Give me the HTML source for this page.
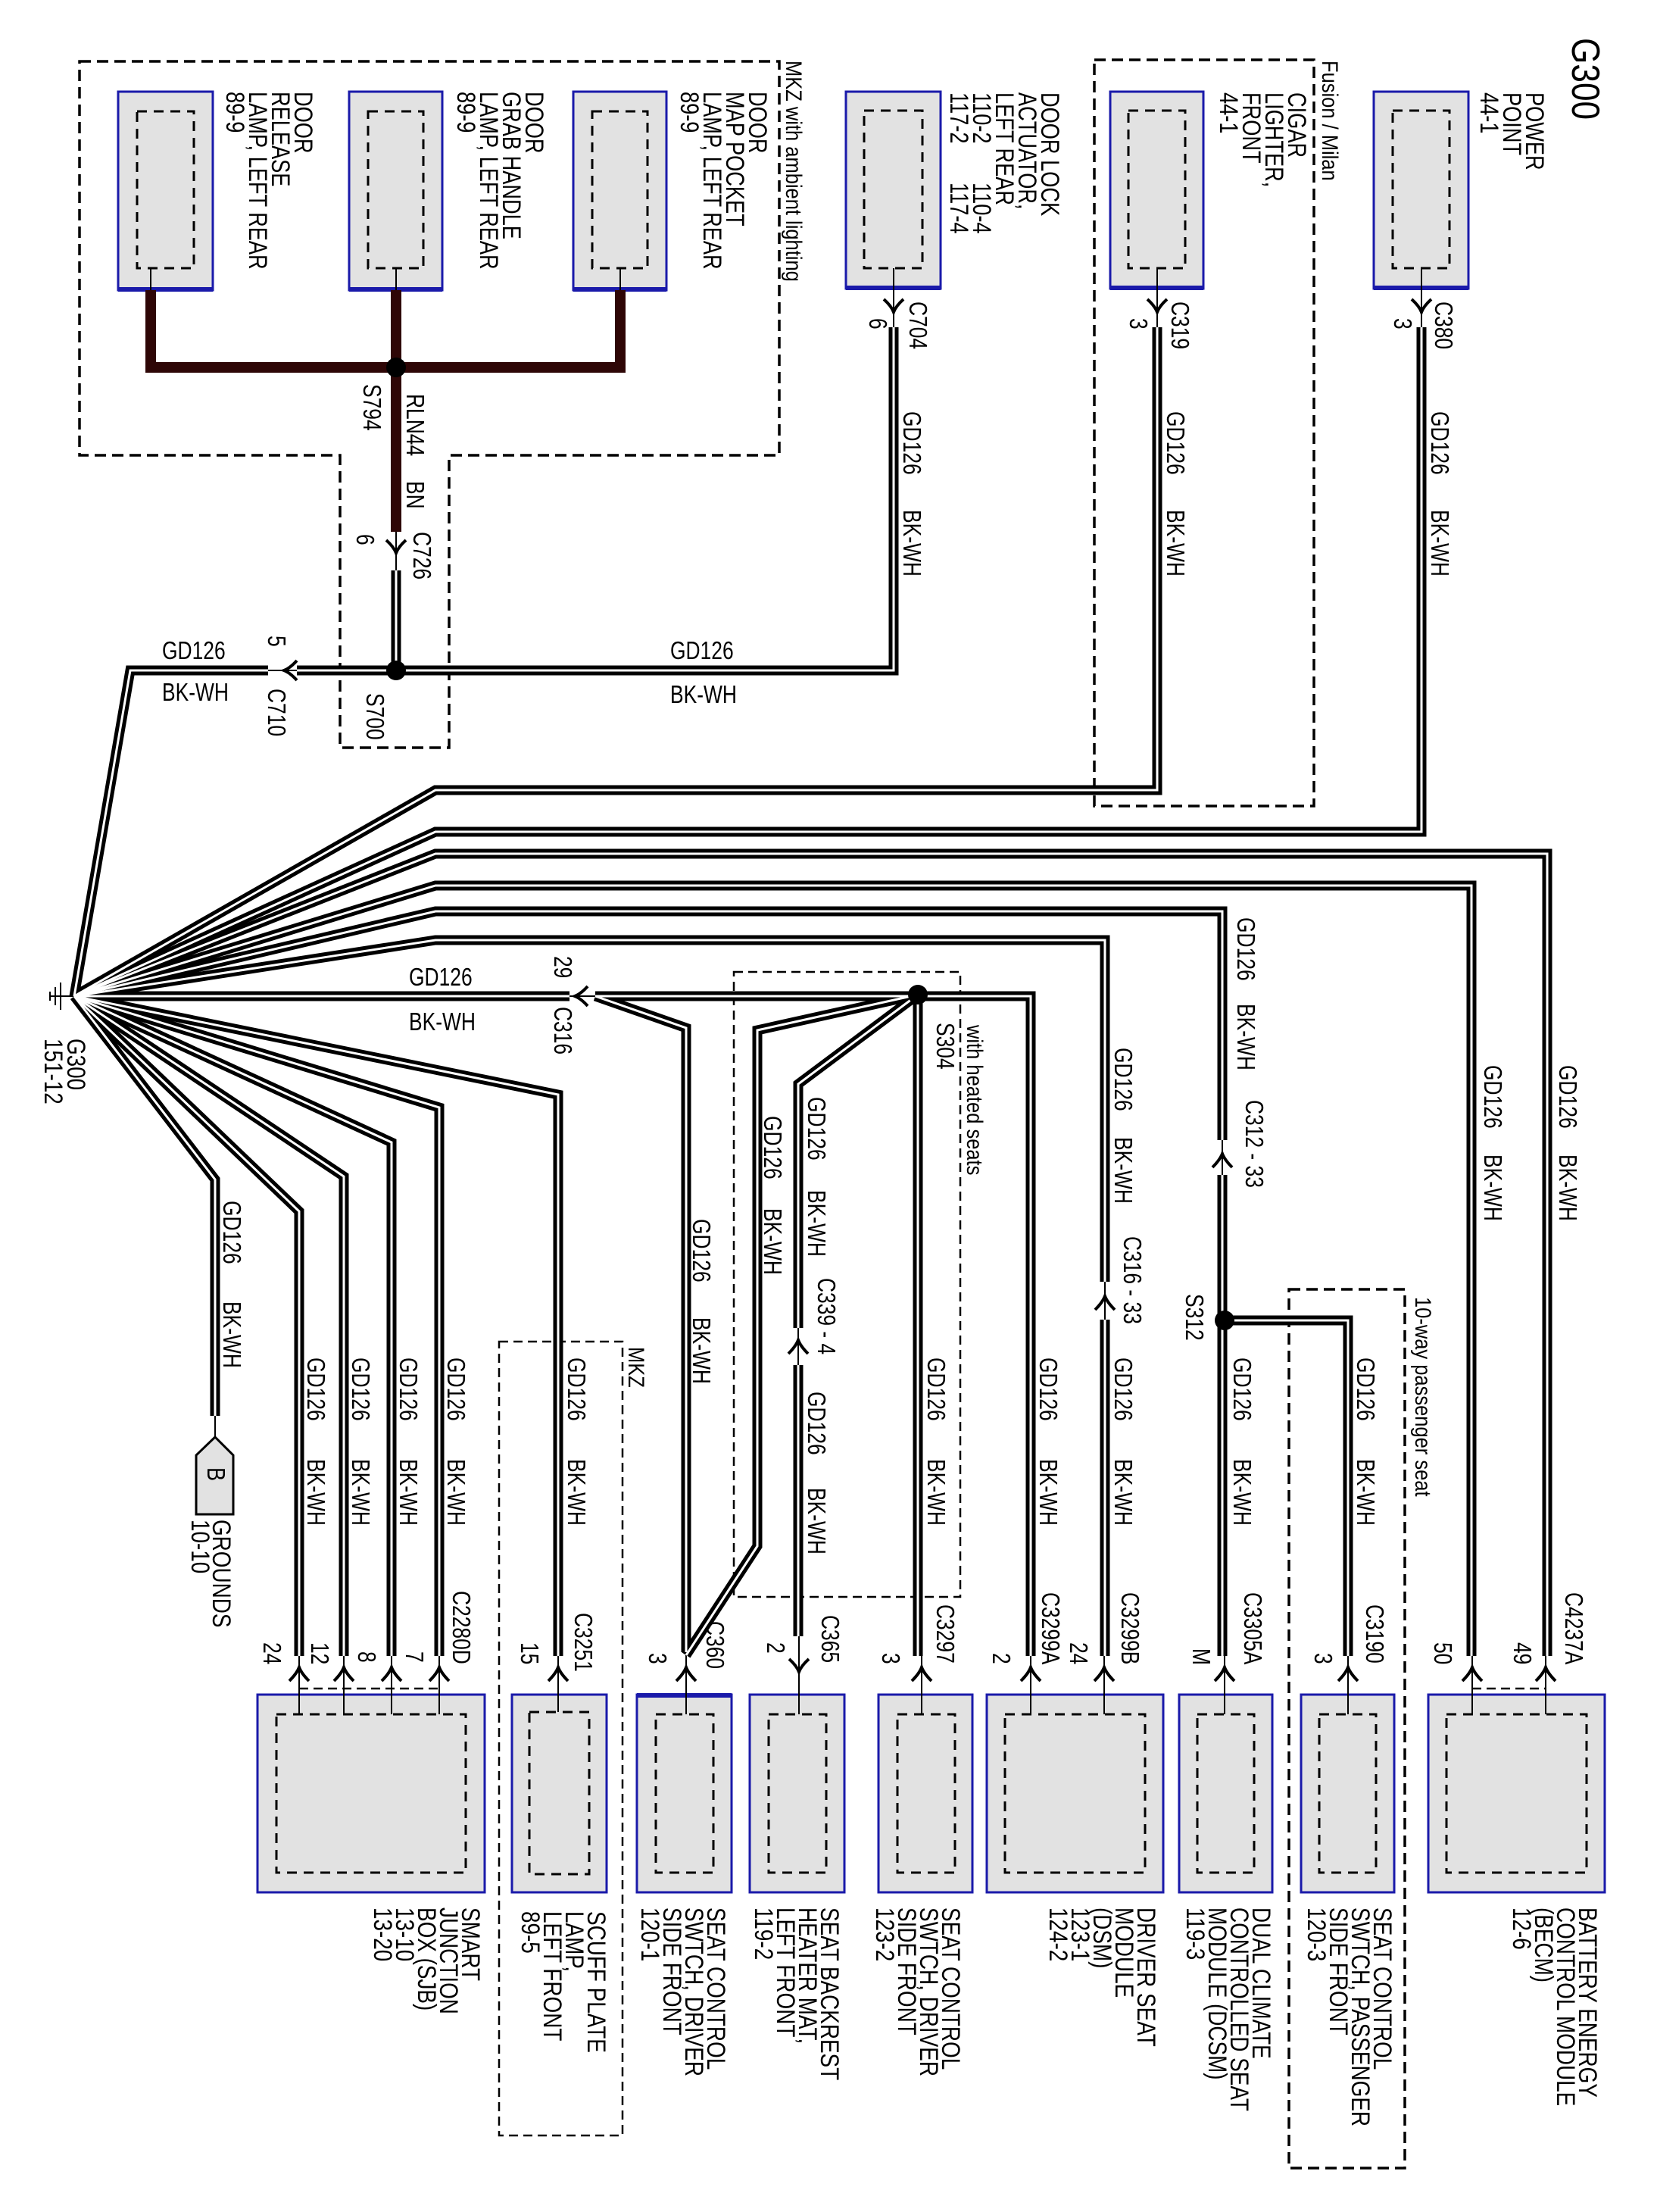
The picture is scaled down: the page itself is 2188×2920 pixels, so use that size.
<!DOCTYPE html>
<html><head><meta charset="utf-8"><style>
html,body{margin:0;padding:0;background:#fff}
svg{display:block}
text{font-family:"Liberation Sans",Arial,sans-serif;fill:#000}
.lb{font-size:34px}
.wl{font-size:33px}
.sm{font-size:30px}
</style></head><body>
<svg width="2188" height="2920" viewBox="0 0 2188 2920" xmlns="http://www.w3.org/2000/svg">
<rect width="2188" height="2920" fill="#fff"/>

<g fill="none" stroke="#000" stroke-width="3.5" stroke-dasharray="15 8">
<path d="M105,81 H1029 V601 H593 V987 H449 V601 H105 Z"/>
<rect x="1445" y="79" width="290" height="985"/>
<rect x="1702" y="1702" width="153" height="1160"/>
</g>
<g fill="none" stroke="#000" stroke-width="2.5" stroke-dasharray="12 7">
<rect x="969" y="1283" width="299" height="825"/>
<rect x="659" y="1771" width="163" height="1048"/>
<path d="M395,2229 H580 M1944,2229 H2041"/>
</g>

<g fill="#e2e2e2" stroke="#1a1aaa" stroke-width="3">
<rect x="156" y="121" width="125" height="262"/>
<rect x="461" y="121" width="123" height="262"/>
<rect x="757" y="121" width="123" height="262"/>
<rect x="1117" y="121" width="125" height="260"/>
<rect x="1466" y="121" width="123" height="260"/>
<rect x="1814" y="121" width="125" height="260"/>
<rect x="340" y="2237" width="300" height="261"/>
<rect x="676" y="2237" width="125" height="261"/>
<rect x="841" y="2237" width="125" height="261"/>
<rect x="990" y="2237" width="125" height="261"/>
<rect x="1160" y="2237" width="124" height="261"/>
<rect x="1303" y="2237" width="233" height="261"/>
<rect x="1557" y="2237" width="123" height="261"/>
<rect x="1718" y="2237" width="123" height="261"/>
<rect x="1886" y="2237" width="233" height="261"/>
</g>
<g stroke="#1a1aaa" stroke-width="6">
<path d="M156,382 H281 M461,382 H584 M757,382 H880 M1117,380 H1242 M1466,380 H1589 M1814,380 H1939 M841,2238 H966"/>
</g>
<g fill="none" stroke="#000" stroke-width="3" stroke-dasharray="13 9">
<rect x="181" y="147" width="75" height="207"/>
<rect x="486" y="147" width="73" height="207"/>
<rect x="782" y="147" width="73" height="207"/>
<rect x="1141" y="146" width="77" height="208"/>
<rect x="1490" y="146" width="75" height="208"/>
<rect x="1839" y="146" width="75" height="208"/>
<rect x="365" y="2263" width="250" height="209"/>
<rect x="699" y="2260" width="79" height="214"/>
<rect x="866" y="2263" width="76" height="209"/>
<rect x="1015" y="2263" width="76" height="209"/>
<rect x="1185" y="2263" width="76" height="209"/>
<rect x="1327" y="2263" width="185" height="209"/>
<rect x="1581" y="2263" width="75" height="209"/>
<rect x="1742" y="2263" width="75" height="209"/>
<rect x="1910" y="2263" width="185" height="209"/>
</g>

<g stroke="#000" stroke-width="2" fill="none">
<path d="M199,354 V383 M523,354 V383 M819,354 V383"/>
<path d="M1180,354 V432 M1528,354 V432 M1877,354 V432"/>
<path d="M523,702 V753 M354,885 H392 M752,1315 H786 M1054,1753 V1802 M1614,1505 V1551 M1459,1692 V1742"/>
<path d="M395,2186 V2263 M454,2186 V2263 M517,2186 V2263 M580,2186 V2263 M737,2186 V2260 M906,2181 V2263 M1055,2160 V2263 M1217,2186 V2263 M1361,2186 V2263 M1458,2186 V2263 M1617,2186 V2263 M1780,2186 V2263 M1944,2186 V2263 M2041,2186 V2263"/>
<path d="M284,1869 V1897"/>
<path d="M98,1315 H66 M80,1297 V1333 M73,1303 V1327 M66,1309 V1321"/>
</g>

<g fill="none" stroke="#2e0606" stroke-width="14">
<path d="M199,383 V485 H819 V383"/>
<path d="M523,383 V485 M523,485 V702"/>
</g>

<g fill="none" stroke="#000" stroke-width="13" stroke-linejoin="miter">
<path d="M1180,432 V885 H392"/>
<path d="M354,885 H172 L98,1315"/>
<path d="M523,753 V885"/>
<path d="M1528,432 V1043 H575 L98,1315"/>
<path d="M1877,432 V1098 H575 L98,1315"/>
<path d="M2043,2186 V1127 H575 L98,1315"/>
<path d="M1943,2186 V1169 H575 L98,1315"/>
<path d="M1614,1505 V1203 H575 L98,1315"/>
<path d="M1614,1551 V2186 M1614,1743 H1780 V2186"/>
<path d="M1459,1692 V1241 H575 L98,1315"/>
<path d="M1459,1742 V2186"/>
<path d="M98,1315 H752"/>
<path d="M786,1315 H1361 V2186 M1212,1313 V2186"/>
<path d="M786,1315 L906,1357 V2181"/>
<path d="M1212,1313 L1000,1360 V2041 L906,2185"/>
<path d="M1212,1313 L1054,1431 V1753"/>
<path d="M1054,1802 V2160"/>
<path d="M98,1315 L284,1557 V1869"/>
<path d="M98,1315 L395,1599 V2186"/>
<path d="M98,1315 L454,1553 V2186"/>
<path d="M98,1315 L517,1508 V2186"/>
<path d="M98,1315 L580,1462 V2186"/>
<path d="M98,1315 L737,1445 V2186"/>
</g>
<g fill="none" stroke="#fff" stroke-width="3" stroke-linejoin="miter">
<path d="M1180,432 V885 H392"/>
<path d="M354,885 H172 L98,1315"/>
<path d="M523,753 V885"/>
<path d="M1528,432 V1043 H575 L98,1315"/>
<path d="M1877,432 V1098 H575 L98,1315"/>
<path d="M2043,2186 V1127 H575 L98,1315"/>
<path d="M1943,2186 V1169 H575 L98,1315"/>
<path d="M1614,1505 V1203 H575 L98,1315"/>
<path d="M1614,1551 V2186 M1614,1743 H1780 V2186"/>
<path d="M1459,1692 V1241 H575 L98,1315"/>
<path d="M1459,1742 V2186"/>
<path d="M98,1315 H752"/>
<path d="M786,1315 H1361 V2186 M1212,1313 V2186"/>
<path d="M786,1315 L906,1357 V2181"/>
<path d="M1212,1313 L1000,1360 V2041 L906,2185"/>
<path d="M1212,1313 L1054,1431 V1753"/>
<path d="M1054,1802 V2160"/>
<path d="M98,1315 L284,1557 V1869"/>
<path d="M98,1315 L395,1599 V2186"/>
<path d="M98,1315 L454,1553 V2186"/>
<path d="M98,1315 L517,1508 V2186"/>
<path d="M98,1315 L580,1462 V2186"/>
<path d="M98,1315 L737,1445 V2186"/>
</g>

<g fill="#000">
<circle cx="523" cy="485" r="13"/>
<circle cx="523" cy="885" r="13"/>
<circle cx="1212" cy="1313" r="13"/>
<circle cx="1617" cy="1743" r="13"/>
</g>

<g fill="none" stroke="#000" stroke-width="4">
<path d="M1167,395 Q1177,404 1180,412 Q1183,404 1193,395"/>
<path d="M1515,395 Q1525,404 1528,412 Q1531,404 1541,395"/>
<path d="M1864,395 Q1874,404 1877,412 Q1880,404 1890,395"/>
<path d="M510,713 Q520,722 523,730 Q526,722 536,713"/>
<path d="M1042,2190 Q1052,2199 1055,2207 Q1058,2199 1068,2190"/>
<path d="M392,872 Q383,882 375,885 Q383,888 392,898"/>
<path d="M776,1302 Q767,1312 759,1315 Q767,1318 776,1328"/>
<path d="M1041,1787 Q1051,1777 1054,1769 Q1057,1777 1067,1787"/>
<path d="M1601,1541 Q1611,1531 1614,1523 Q1617,1531 1627,1541"/>
<path d="M1446,1729 Q1456,1719 1459,1711 Q1462,1719 1472,1729"/>
<path d="M382,2219 Q392,2209 395,2201 Q398,2209 408,2219"/>
<path d="M441,2219 Q451,2209 454,2201 Q457,2209 467,2219"/>
<path d="M504,2219 Q514,2209 517,2201 Q520,2209 530,2219"/>
<path d="M567,2219 Q577,2209 580,2201 Q583,2209 593,2219"/>
<path d="M724,2219 Q734,2209 737,2201 Q740,2209 750,2219"/>
<path d="M893,2219 Q903,2209 906,2201 Q909,2209 919,2219"/>
<path d="M1204,2219 Q1214,2209 1217,2201 Q1220,2209 1230,2219"/>
<path d="M1348,2219 Q1358,2209 1361,2201 Q1364,2209 1374,2219"/>
<path d="M1445,2219 Q1455,2209 1458,2201 Q1461,2209 1471,2219"/>
<path d="M1604,2219 Q1614,2209 1617,2201 Q1620,2209 1630,2219"/>
<path d="M1767,2219 Q1777,2209 1780,2201 Q1783,2209 1793,2219"/>
<path d="M1931,2219 Q1941,2209 1944,2201 Q1947,2209 1957,2219"/>
<path d="M2028,2219 Q2038,2209 2041,2201 Q2044,2209 2054,2219"/>
</g>

<path d="M284,1897 L308,1921 V1999 H259 V1921 Z" fill="#e2e2e2" stroke="#000" stroke-width="3"/>
<text class="wl" transform="translate(274,1937) rotate(90) scale(0.82,1)">B</text>

<text transform="translate(2076,50) rotate(90) scale(0.85,1)" style="font-size:52px">G300</text>

<text class="lb" transform="translate(389,121) rotate(90) scale(0.8,1)"><tspan x="0" y="0">DOOR</tspan><tspan x="0" dy="30">RELEASE</tspan><tspan x="0" dy="30">LAMP, LEFT REAR</tspan><tspan x="0" dy="30">89-9</tspan></text>
<text class="lb" transform="translate(694,121) rotate(90) scale(0.8,1)"><tspan x="0" y="0">DOOR</tspan><tspan x="0" dy="30">GRAB HANDLE</tspan><tspan x="0" dy="30">LAMP, LEFT REAR</tspan><tspan x="0" dy="30">89-9</tspan></text>
<text class="lb" transform="translate(989,121) rotate(90) scale(0.8,1)"><tspan x="0" y="0">DOOR</tspan><tspan x="0" dy="30">MAP POCKET</tspan><tspan x="0" dy="30">LAMP, LEFT REAR</tspan><tspan x="0" dy="30">89-9</tspan></text>
<text class="sm" transform="translate(1038,80) rotate(90) scale(0.85,1)">MKZ with ambient lighting</text>
<text class="lb" transform="translate(1375,122) rotate(90) scale(0.8,1)"><tspan x="0" y="0">DOOR LOCK</tspan><tspan x="0" dy="30">ACTUATOR,</tspan><tspan x="0" dy="30">LEFT REAR</tspan><tspan x="0" dy="30">110-2</tspan><tspan x="0" dy="30">117-2</tspan></text>
<text class="lb" transform="translate(1285,241) rotate(90) scale(0.8,1)"><tspan x="0" y="0">110-4</tspan><tspan x="0" dy="30">117-4</tspan></text>
<text class="sm" transform="translate(1746,80) rotate(90) scale(0.85,1)">Fusion / Milan</text>
<text class="lb" transform="translate(1701,122) rotate(90) scale(0.8,1)"><tspan x="0" y="0">CIGAR</tspan><tspan x="0" dy="30">LIGHTER,</tspan><tspan x="0" dy="30">FRONT</tspan><tspan x="0" dy="30">44-1</tspan></text>
<text class="lb" transform="translate(2015,122) rotate(90) scale(0.8,1)"><tspan x="0" y="0">POWER</tspan><tspan x="0" dy="30">POINT</tspan><tspan x="0" dy="30">44-1</tspan></text>

<text class="lb" transform="translate(610,2518) rotate(90) scale(0.82,1)"><tspan x="0" y="0">SMART</tspan><tspan x="0" dy="29">JUNCTION</tspan><tspan x="0" dy="29">BOX (SJB)</tspan><tspan x="0" dy="29">13-10</tspan><tspan x="0" dy="29">13-20</tspan></text>
<text class="lb" transform="translate(776,2523) rotate(90) scale(0.82,1)"><tspan x="0" y="0">SCUFF PLATE</tspan><tspan x="0" dy="29">LAMP,</tspan><tspan x="0" dy="29">LEFT FRONT</tspan><tspan x="0" dy="29">89-5</tspan></text>
<text class="lb" transform="translate(934,2518) rotate(90) scale(0.82,1)"><tspan x="0" y="0">SEAT CONTROL</tspan><tspan x="0" dy="29">SWTCH, DRIVER</tspan><tspan x="0" dy="29">SIDE FRONT</tspan><tspan x="0" dy="29">120-1</tspan></text>
<text class="lb" transform="translate(1084,2518) rotate(90) scale(0.82,1)"><tspan x="0" y="0">SEAT BACKREST</tspan><tspan x="0" dy="29">HEATER MAT,</tspan><tspan x="0" dy="29">LEFT FRONT</tspan><tspan x="0" dy="29">119-2</tspan></text>
<text class="lb" transform="translate(1244,2518) rotate(90) scale(0.82,1)"><tspan x="0" y="0">SEAT CONTROL</tspan><tspan x="0" dy="29">SWTCH, DRIVER</tspan><tspan x="0" dy="29">SIDE FRONT</tspan><tspan x="0" dy="29">123-2</tspan></text>
<text class="lb" transform="translate(1502,2518) rotate(90) scale(0.82,1)"><tspan x="0" y="0">DRIVER SEAT</tspan><tspan x="0" dy="29">MODULE</tspan><tspan x="0" dy="29">(DSM)</tspan><tspan x="0" dy="29">123-1</tspan><tspan x="0" dy="29">124-2</tspan></text>
<text class="lb" transform="translate(1654,2518) rotate(90) scale(0.82,1)"><tspan x="0" y="0">DUAL CLIMATE</tspan><tspan x="0" dy="29">CONTROLLED SEAT</tspan><tspan x="0" dy="29">MODULE (DCSM)</tspan><tspan x="0" dy="29">119-3</tspan></text>
<text class="lb" transform="translate(1814,2518) rotate(90) scale(0.82,1)"><tspan x="0" y="0">SEAT CONTROL</tspan><tspan x="0" dy="29">SWTCH, PASSENGER</tspan><tspan x="0" dy="29">SIDE FRONT</tspan><tspan x="0" dy="29">120-3</tspan></text>
<text class="lb" transform="translate(2085,2518) rotate(90) scale(0.82,1)"><tspan x="0" y="0">BATTERY ENERGY</tspan><tspan x="0" dy="29">CONTROL MODULE</tspan><tspan x="0" dy="29">(BECM)</tspan><tspan x="0" dy="29">12-6</tspan></text>
<text class="lb" transform="translate(281,2006) rotate(90) scale(0.82,1)"><tspan x="0" y="0">GROUNDS</tspan><tspan x="0" dy="28">10-10</tspan></text>
<text class="lb" transform="translate(89,1371) rotate(90) scale(0.82,1)"><tspan x="0" y="0">G300</tspan><tspan x="0" dy="30">151-12</tspan></text>

<text class="sm" transform="translate(830,1778) rotate(90) scale(0.85,1)">MKZ</text>
<text class="sm" transform="translate(1277,1353) rotate(90) scale(0.85,1)">with heated seats</text>
<text class="sm" transform="translate(1869,1712) rotate(90) scale(0.85,1)">10-way passenger seat</text>

<g class="wl">
<text transform="translate(1201,398) rotate(90) scale(0.8,1)">C704</text>
<text transform="translate(1148,420) rotate(90) scale(0.8,1)">6</text>
<text transform="translate(1547,398) rotate(90) scale(0.8,1)">C319</text>
<text transform="translate(1492,420) rotate(90) scale(0.8,1)">3</text>
<text transform="translate(1895,398) rotate(90) scale(0.8,1)">C380</text>
<text transform="translate(1841,420) rotate(90) scale(0.8,1)">3</text>
<text transform="translate(1193,543) rotate(90) scale(0.8,1)">GD126</text>
<text transform="translate(1193,673) rotate(90) scale(0.8,1)">BK-WH</text>
<text transform="translate(1541,543) rotate(90) scale(0.8,1)">GD126</text>
<text transform="translate(1541,673) rotate(90) scale(0.8,1)">BK-WH</text>
<text transform="translate(1890,543) rotate(90) scale(0.8,1)">GD126</text>
<text transform="translate(1890,673) rotate(90) scale(0.8,1)">BK-WH</text>

<text transform="translate(480,507) rotate(90) scale(0.8,1)">S794</text>
<text transform="translate(537,520) rotate(90) scale(0.8,1)">RLN44</text>
<text transform="translate(537,635) rotate(90) scale(0.8,1)">BN</text>
<text transform="translate(546,702) rotate(90) scale(0.8,1)">C726</text>
<text transform="translate(471,705) rotate(90) scale(0.8,1)">6</text>
<text transform="translate(354,909) rotate(90) scale(0.8,1)">C710</text>
<text transform="translate(354,839) rotate(90) scale(0.8,1)">5</text>
<text transform="translate(484,915) rotate(90) scale(0.8,1)">S700</text>
<text transform="translate(214,870) scale(0.8,1)">GD126</text>
<text transform="translate(214,925) scale(0.8,1)">BK-WH</text>
<text transform="translate(885,870) scale(0.8,1)">GD126</text>
<text transform="translate(885,928) scale(0.8,1)">BK-WH</text>
<text transform="translate(540,1301) scale(0.8,1)">GD126</text>
<text transform="translate(540,1360) scale(0.8,1)">BK-WH</text>
<text transform="translate(732,1262) rotate(90) scale(0.8,1)">29</text>
<text transform="translate(732,1329) rotate(90) scale(0.8,1)">C316</text>
<text transform="translate(1237,1350) rotate(90) scale(0.8,1)">S304</text>
<text transform="translate(1566,1708) rotate(90) scale(0.8,1)">S312</text>

<text transform="translate(1634,1211) rotate(90) scale(0.8,1)">GD126</text>
<text transform="translate(1634,1325) rotate(90) scale(0.8,1)">BK-WH</text>
<text transform="translate(1645,1452) rotate(90) scale(0.8,1)">C312 - 33</text>
<text transform="translate(1472,1383) rotate(90) scale(0.8,1)">GD126</text>
<text transform="translate(1472,1501) rotate(90) scale(0.8,1)">BK-WH</text>
<text transform="translate(1484,1632) rotate(90) scale(0.8,1)">C316 - 33</text>
<text transform="translate(1960,1406) rotate(90) scale(0.8,1)">GD126</text>
<text transform="translate(1960,1524) rotate(90) scale(0.8,1)">BK-WH</text>
<text transform="translate(2059,1406) rotate(90) scale(0.8,1)">GD126</text>
<text transform="translate(2059,1524) rotate(90) scale(0.8,1)">BK-WH</text>
<text transform="translate(915,1609) rotate(90) scale(0.8,1)">GD126</text>
<text transform="translate(915,1739) rotate(90) scale(0.8,1)">BK-WH</text>
<text transform="translate(1009,1473) rotate(90) scale(0.8,1)">GD126</text>
<text transform="translate(1009,1595) rotate(90) scale(0.8,1)">BK-WH</text>
<text transform="translate(1067,1448) rotate(90) scale(0.8,1)">GD126</text>
<text transform="translate(1067,1571) rotate(90) scale(0.8,1)">BK-WH</text>
<text transform="translate(1080,1687) rotate(90) scale(0.8,1)">C339 - 4</text>
<text transform="translate(1067,1837) rotate(90) scale(0.8,1)">GD126</text>
<text transform="translate(1067,1964) rotate(90) scale(0.8,1)">BK-WH</text>
<text transform="translate(295,1585) rotate(90) scale(0.8,1)">GD126</text>
<text transform="translate(295,1718) rotate(90) scale(0.8,1)">BK-WH</text>

<text transform="translate(406,1792) rotate(90) scale(0.8,1)">GD126</text>
<text transform="translate(406,1926) rotate(90) scale(0.8,1)">BK-WH</text>
<text transform="translate(465,1792) rotate(90) scale(0.8,1)">GD126</text>
<text transform="translate(465,1926) rotate(90) scale(0.8,1)">BK-WH</text>
<text transform="translate(528,1792) rotate(90) scale(0.8,1)">GD126</text>
<text transform="translate(528,1926) rotate(90) scale(0.8,1)">BK-WH</text>
<text transform="translate(591,1792) rotate(90) scale(0.8,1)">GD126</text>
<text transform="translate(591,1926) rotate(90) scale(0.8,1)">BK-WH</text>
<text transform="translate(750,1792) rotate(90) scale(0.8,1)">GD126</text>
<text transform="translate(750,1926) rotate(90) scale(0.8,1)">BK-WH</text>
<text transform="translate(1225,1792) rotate(90) scale(0.8,1)">GD126</text>
<text transform="translate(1225,1926) rotate(90) scale(0.8,1)">BK-WH</text>
<text transform="translate(1373,1792) rotate(90) scale(0.8,1)">GD126</text>
<text transform="translate(1373,1926) rotate(90) scale(0.8,1)">BK-WH</text>
<text transform="translate(1472,1792) rotate(90) scale(0.8,1)">GD126</text>
<text transform="translate(1472,1926) rotate(90) scale(0.8,1)">BK-WH</text>
<text transform="translate(1629,1792) rotate(90) scale(0.8,1)">GD126</text>
<text transform="translate(1629,1926) rotate(90) scale(0.8,1)">BK-WH</text>
<text transform="translate(1792,1792) rotate(90) scale(0.8,1)">GD126</text>
<text transform="translate(1792,1926) rotate(90) scale(0.8,1)">BK-WH</text>

<text transform="translate(598,2100) rotate(90) scale(0.8,1)">C2280D</text>
<text transform="translate(759,2129) rotate(90) scale(0.8,1)">C3251</text>
<text transform="translate(933,2140) rotate(90) scale(0.8,1)">C360</text>
<text transform="translate(1085,2132) rotate(90) scale(0.8,1)">C365</text>
<text transform="translate(1237,2118) rotate(90) scale(0.8,1)">C3297</text>
<text transform="translate(1376,2102) rotate(90) scale(0.8,1)">C3299A</text>
<text transform="translate(1481,2102) rotate(90) scale(0.8,1)">C3299B</text>
<text transform="translate(1643,2102) rotate(90) scale(0.8,1)">C3305A</text>
<text transform="translate(1804,2118) rotate(90) scale(0.8,1)">C3190</text>
<text transform="translate(2067,2102) rotate(90) scale(0.8,1)">C4237A</text>
<text transform="translate(348,2168) rotate(90) scale(0.8,1)">24</text>
<text transform="translate(411,2168) rotate(90) scale(0.8,1)">12</text>
<text transform="translate(473,2180) rotate(90) scale(0.8,1)">8</text>
<text transform="translate(536,2180) rotate(90) scale(0.8,1)">7</text>
<text transform="translate(688,2168) rotate(90) scale(0.8,1)">15</text>
<text transform="translate(857,2182) rotate(90) scale(0.8,1)">3</text>
<text transform="translate(1013,2168) rotate(90) scale(0.8,1)">2</text>
<text transform="translate(1165,2182) rotate(90) scale(0.8,1)">3</text>
<text transform="translate(1311,2182) rotate(90) scale(0.8,1)">2</text>
<text transform="translate(1413,2168) rotate(90) scale(0.8,1)">24</text>
<text transform="translate(1575,2176) rotate(90) scale(0.8,1)">M</text>
<text transform="translate(1736,2182) rotate(90) scale(0.8,1)">3</text>
<text transform="translate(1894,2168) rotate(90) scale(0.8,1)">50</text>
<text transform="translate(1999,2168) rotate(90) scale(0.8,1)">49</text>
</g>
</svg>
</body></html>
